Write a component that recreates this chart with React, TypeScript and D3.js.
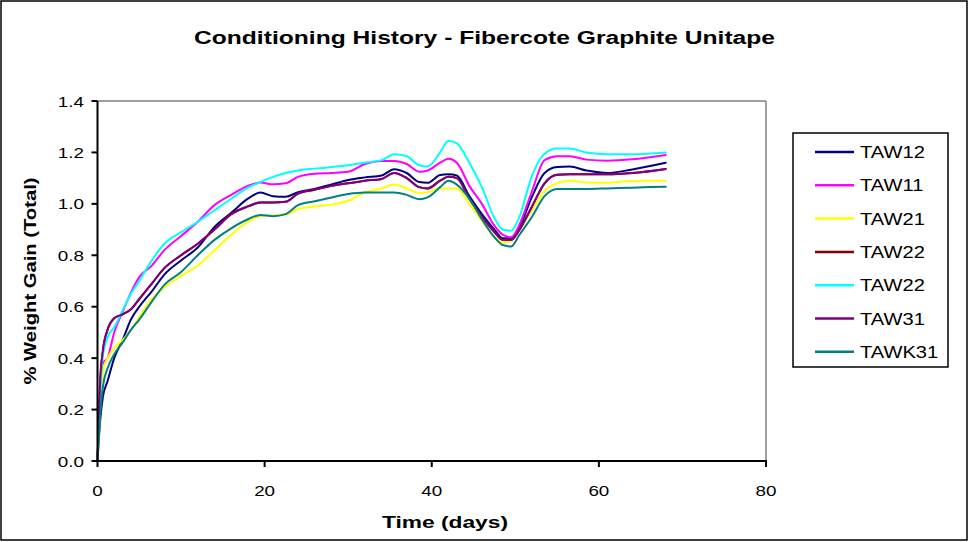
import React from "react";
import * as d3 from "d3";

const days = [0, 0.3, 0.65, 1.2, 2, 3, 4, 5, 6.5, 8, 10, 12, 14, 16, 18, 19.5, 21, 22.5, 24, 26, 28, 30, 32, 34, 35.5, 37, 38.5, 39.5, 41, 42, 43, 44.5, 46, 47.5, 48.5, 49.5, 50.5, 52, 53.5, 55, 56.5, 58.5, 61, 64, 68];

const taw12 = [0, 0.15, 0.25, 0.31, 0.4, 0.47, 0.55, 0.6, 0.66, 0.725, 0.78, 0.83, 0.91, 0.965, 1.02, 1.044, 1.03, 1.028, 1.045, 1.058, 1.075, 1.093, 1.103, 1.11, 1.135, 1.12, 1.085, 1.082, 1.112, 1.115, 1.11, 1.03, 0.96, 0.9, 0.866, 0.866, 0.91, 1.028, 1.12, 1.143, 1.145, 1.13, 1.12, 1.134, 1.16];
const taw11 = [0, 0.22, 0.38, 0.4, 0.5, 0.58, 0.655, 0.715, 0.76, 0.82, 0.875, 0.93, 0.995, 1.035, 1.07, 1.083, 1.076, 1.08, 1.105, 1.117, 1.12, 1.125, 1.155, 1.167, 1.167, 1.155, 1.125, 1.13, 1.16, 1.175, 1.16, 1.07, 1.0, 0.915, 0.88, 0.87, 0.92, 1.05, 1.17, 1.185, 1.185, 1.172, 1.168, 1.173, 1.19];
const taw21 = [0, 0.2, 0.35, 0.4, 0.44, 0.47, 0.51, 0.56, 0.63, 0.675, 0.72, 0.76, 0.82, 0.88, 0.93, 0.953, 0.955, 0.958, 0.98, 0.99, 0.997, 1.012, 1.045, 1.06, 1.075, 1.06, 1.042, 1.045, 1.06, 1.06, 1.06, 1.0, 0.935, 0.87, 0.85, 0.855, 0.9, 0.975, 1.05, 1.08, 1.09, 1.083, 1.082, 1.089, 1.09];
const taw22a = [0, 0.3, 0.43, 0.51, 0.555, 0.57, 0.59, 0.63, 0.69, 0.75, 0.8, 0.845, 0.9, 0.96, 0.99, 1.005, 1.005, 1.008, 1.04, 1.055, 1.07, 1.08, 1.09, 1.097, 1.12, 1.1, 1.065, 1.06, 1.09, 1.105, 1.1, 1.02, 0.95, 0.89, 0.86, 0.86, 0.9, 0.99, 1.08, 1.113, 1.115, 1.115, 1.115, 1.12, 1.136];
const taw22b = [0, 0.25, 0.41, 0.48, 0.52, 0.585, 0.65, 0.7, 0.78, 0.845, 0.89, 0.93, 0.975, 1.02, 1.063, 1.085, 1.105, 1.12, 1.13, 1.137, 1.143, 1.15, 1.16, 1.17, 1.193, 1.185, 1.15, 1.145, 1.2, 1.245, 1.235, 1.16, 1.065, 0.945, 0.9, 0.895, 0.95, 1.11, 1.195, 1.215, 1.215, 1.2, 1.193, 1.193, 1.2];
const taw31 = [0, 0.3, 0.43, 0.51, 0.555, 0.57, 0.59, 0.63, 0.69, 0.75, 0.8, 0.845, 0.9, 0.96, 0.99, 1.005, 1.005, 1.008, 1.04, 1.055, 1.07, 1.08, 1.09, 1.097, 1.12, 1.1, 1.065, 1.06, 1.09, 1.105, 1.1, 1.02, 0.95, 0.89, 0.86, 0.86, 0.9, 0.99, 1.08, 1.113, 1.115, 1.115, 1.115, 1.12, 1.136];
const tawk31 = [0, 0.17, 0.29, 0.36, 0.415, 0.46, 0.51, 0.55, 0.62, 0.685, 0.735, 0.8, 0.86, 0.905, 0.94, 0.957, 0.952, 0.96, 0.995, 1.01, 1.025, 1.038, 1.044, 1.044, 1.044, 1.035, 1.018, 1.025, 1.065, 1.09, 1.075, 1.02, 0.94, 0.87, 0.84, 0.834, 0.88, 0.95, 1.03, 1.058, 1.058, 1.058, 1.06, 1.063, 1.067];

const seriesNames = ["TAW12", "TAW11", "TAW21", "TAW22", "TAW22", "TAW31", "TAWK31"];
const seriesColors = ["#000080", "#FF00FF", "#FFFF00", "#800000", "#00FFFF", "#800080", "#008080"];
const seriesValues = [taw12, taw11, taw21, taw22a, taw22b, taw31, tawk31];

const xTicks = [0, 20, 40, 60, 80];
const yTicks = [0, 0.2, 0.4, 0.6, 0.8, 1.0, 1.2, 1.4];

const title = "Conditioning History - Fibercote Graphite Unitape";
const xTitle = "Time (days)";
const yTitle = "% Weight Gain (Total)";

const FONT = "Arial, 'Liberation Sans', Helvetica, sans-serif";

function SText({ x, y, sx = 1.3, anchor = "start", size = 15, weight = "normal", children }: any) {
  return (
    <text
      transform={`translate(${x},${y}) scale(${sx},1)`}
      textAnchor={anchor}
      fontSize={size}
      fontWeight={weight}
      fontFamily={FONT}
      fill="#000"
    >
      {children}
    </text>
  );
}

export default function App() {
  const W = 969, H = 542;
  const x = d3.scaleLinear().domain([0, 80]).range([97.5, 766]);
  const y = d3.scaleLinear().domain([0, 1.4]).range([461, 101]);
  const line = d3
    .line<number>()
    .x((_, i) => x(days[i]))
    .y((d) => y(d))
    .curve(d3.curveMonotoneX);

  const legX = 793, legY = 133, legW = 155, legH = 234;
  const rowY = (i: number) => 152 + i * 33.3;

  return (
    <svg width={W} height={H} style={{ position: "absolute", left: 0, top: 0, background: "#fff" }}>
      <rect x={0} y={0} width={W} height={H} fill="#fff" />
      <rect x={1} y={1} width={966} height={539} fill="none" stroke="#000" strokeWidth={1.5} />

      <text x={484.5} y={44} textAnchor="middle" fontSize={18} fontWeight="bold" fontFamily={FONT}
        textLength={581} lengthAdjust="spacingAndGlyphs">{title}</text>

      {/* plot border */}
      <line x1={x(0)} x2={x(80)} y1={y(1.4)} y2={y(1.4)} stroke="#808080" strokeWidth={1.5} />
      <line x1={x(80)} x2={x(80)} y1={y(1.4)} y2={y(0)} stroke="#808080" strokeWidth={1.5} />

      {/* series */}
      {seriesValues.map((vals, i) => (
        <path key={i} d={line(vals) || ""} fill="none" stroke={seriesColors[i]} strokeWidth={2}
          strokeLinejoin="round" strokeLinecap="round" />
      ))}

      {/* axes */}
      <line x1={x(0)} x2={x(0)} y1={y(1.4)} y2={y(0) + 1} stroke="#000" strokeWidth={2} />
      <line x1={x(0) - 1} x2={x(80) + 1} y1={y(0)} y2={y(0)} stroke="#000" strokeWidth={2} />
      {yTicks.map((t) => (
        <g key={t}>
          <line x1={x(0) - 6} x2={x(0)} y1={y(t)} y2={y(t)} stroke="#000" strokeWidth={2} />
          <SText x={84} y={y(t) + 5.5} anchor="end" size={14.5}>{t.toFixed(1)}</SText>
        </g>
      ))}
      {xTicks.map((t) => (
        <g key={t}>
          <line x1={x(t)} x2={x(t)} y1={y(0)} y2={y(0) + 6} stroke="#000" strokeWidth={2} />
          <SText x={x(t)} y={496} anchor="middle" size={14.5}>{t}</SText>
        </g>
      ))}

      <text x={445} y={528} textAnchor="middle" fontSize={16} fontWeight="bold" fontFamily={FONT}
        textLength={126} lengthAdjust="spacingAndGlyphs">{xTitle}</text>
      <text transform="translate(36,281) rotate(-90)" textAnchor="middle" fontSize={16} fontWeight="bold"
        fontFamily={FONT} textLength={207} lengthAdjust="spacingAndGlyphs">{yTitle}</text>

      {/* legend */}
      <rect x={legX} y={legY} width={legW} height={legH} fill="#fff" stroke="#000" strokeWidth={1.5} />
      {seriesNames.map((n, i) => (
        <g key={i}>
          <line x1={815} x2={854} y1={rowY(i)} y2={rowY(i)} stroke={seriesColors[i]} strokeWidth={2.5} />
          <SText x={860} y={rowY(i) + 6} size={16.5} sx={1.22}>{n}</SText>
        </g>
      ))}
    </svg>
  );
}
